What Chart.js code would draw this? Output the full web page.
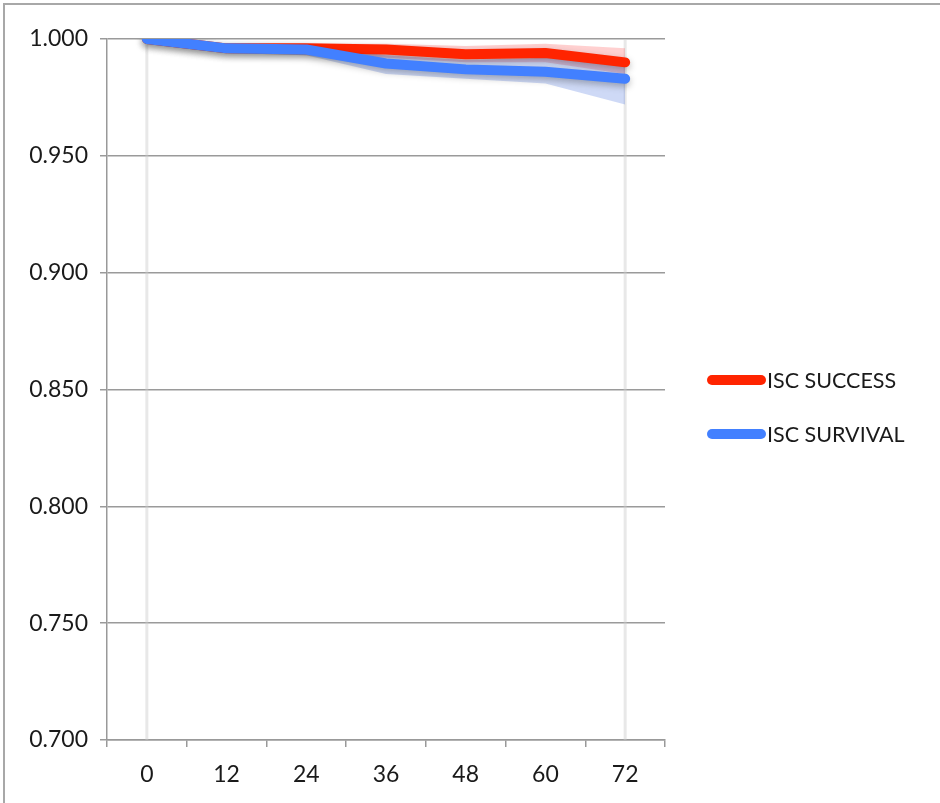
<!DOCTYPE html>
<html>
<head>
<meta charset="utf-8">
<script src="https://cdn.jsdelivr.net/npm/chart.js@4/dist/chart.umd.min.js"></script>
<style>
  html, body { margin: 0; padding: 0; background: #fff; }
  #wrap { width: 940px; height: 803px; position: relative; }
</style>
</head>
<body>
<div id="wrap"><canvas id="c" width="940" height="803"></canvas></div>
<script>
// Months since procedure
const months = ['0', '12', '24', '36', '48', '60', '72'];

// ISC success estimate with its confidence band
const successValues = [1.000, 0.996, 0.996, 0.9955, 0.9935, 0.994, 0.990];
const successUpper  = [1.000, 0.998, 0.998, 0.998, 0.997, 0.998, 0.996];
const successLower  = [1.000, 0.994, 0.993, 0.992, 0.990, 0.990, 0.985];

// ISC survival estimate with its confidence band
const survivalValues = [1.000, 0.996, 0.9955, 0.9895, 0.987, 0.986, 0.983];
const survivalUpper  = [1.000, 0.998, 0.997, 0.993, 0.991, 0.992, 0.990];
const survivalLower  = [1.000, 0.994, 0.993, 0.985, 0.983, 0.981, 0.972];

const yTicks = [0.700, 0.750, 0.800, 0.850, 0.900, 0.950, 1.000];

const RED = '#ff2400';
const BLUE = '#4280ff';
const FONT = 'Lato, "Open Sans", sans-serif';

const bandStyle = (color) => ({
  borderWidth: 0, pointRadius: 0, pointHoverRadius: 0,
  backgroundColor: color, tension: 0
});

// Soft drop shadow beneath the main curves
const shadowPlugin = {
  id: 'shadow',
  beforeDatasetDraw(chart, args) {
    const ds = chart.data.datasets[args.index];
    if (ds.isMain) {
      const ctx = chart.ctx;
      ctx.save();
      ctx.shadowColor = 'rgba(0,0,0,0.28)';
      ctx.shadowBlur = 7;
      ctx.shadowOffsetY = 3;
    }
  },
  afterDatasetDraw(chart, args) {
    const ds = chart.data.datasets[args.index];
    if (ds.isMain) chart.ctx.restore();
  }
};

// Faint vertical drop lines at the first and last time points, plus frame and legend
const decorPlugin = {
  id: 'decor',
  beforeDatasetsDraw(chart) {
    const { ctx, chartArea, scales } = chart;
    ctx.save();
    ctx.strokeStyle = 'rgba(205,205,205,0.45)';
    ctx.lineWidth = 3;
    [months[0], months[months.length - 1]].forEach(m => {
      const x = scales.x.getPixelForValue(months.indexOf(m));
      ctx.beginPath();
      ctx.moveTo(x, chartArea.top);
      ctx.lineTo(x, chartArea.bottom);
      ctx.stroke();
    });
    ctx.restore();
  },
  afterDraw(chart) {
    const ctx = chart.ctx;
    ctx.save();
    // outer frame (top and left edges)
    ctx.strokeStyle = '#a8a8a8';
    ctx.lineWidth = 2;
    ctx.beginPath();
    ctx.moveTo(4, 803);
    ctx.lineTo(4, 4);
    ctx.lineTo(940, 4);
    ctx.stroke();

    // legend
    const items = [
      { label: 'ISC SUCCESS', color: RED, y: 380 },
      { label: 'ISC SURVIVAL', color: BLUE, y: 434 }
    ];
    ctx.font = '21.5px ' + FONT;
    ctx.textBaseline = 'middle';
    ctx.textAlign = 'left';
    items.forEach(it => {
      ctx.strokeStyle = it.color;
      ctx.lineWidth = 10;
      ctx.lineCap = 'round';
      ctx.beginPath();
      ctx.moveTo(712, it.y);
      ctx.lineTo(761, it.y);
      ctx.stroke();
      ctx.fillStyle = '#1a1a1a';
      ctx.fillText(it.label, 767, it.y + 1);
    });
    ctx.restore();
  }
};

new Chart(document.getElementById('c'), {
  type: 'line',
  data: {
    labels: months,
    datasets: [
      { label: 'ISC SURVIVAL', data: survivalValues, isMain: true,
        borderColor: BLUE, borderWidth: 10, pointRadius: 0, tension: 0,
        borderCapStyle: 'round', borderJoinStyle: 'round', fill: false, order: 1 },
      { label: 'ISC SUCCESS', data: successValues, isMain: true,
        borderColor: RED, borderWidth: 10, pointRadius: 0, tension: 0,
        borderCapStyle: 'round', borderJoinStyle: 'round', fill: false, order: 2 },
      { label: 'survival upper', data: survivalUpper, ...bandStyle('rgba(66,110,220,0.26)'), fill: false, order: 3 },
      { label: 'survival lower', data: survivalLower, ...bandStyle('rgba(66,110,220,0.26)'), fill: '-1', order: 3 },
      { label: 'success upper', data: successUpper, ...bandStyle('rgba(255,60,60,0.24)'), fill: false, order: 4 },
      { label: 'success lower', data: successLower, ...bandStyle('rgba(255,60,60,0.24)'), fill: '-1', order: 4 }
    ]
  },
  plugins: [shadowPlugin, decorPlugin],
  options: {
    responsive: false,
    animation: false,
    events: [],
    layout: { padding: { top: 39, right: 275, bottom: 0, left: 0 } },
    plugins: { legend: { display: false }, tooltip: { enabled: false } },
    scales: {
      x: {
        type: 'category',
        offset: true,
        grid: { offset: true, drawOnChartArea: false, drawTicks: true, tickLength: 7, color: '#999', lineWidth: 1.5 },
        border: { color: '#999', width: 1.5 },
        ticks: { color: '#1a1a1a', font: { family: FONT, size: 23 }, padding: 14, maxRotation: 0 },
        afterFit(scale) { scale.height = 63; }
      },
      y: {
        min: 0.7, max: 1.0,
        afterBuildTicks(scale) { scale.ticks = yTicks.map(v => ({ value: v })); },
        grid: { color: '#9a9a9a', lineWidth: 1.5, tickLength: 7 },
        border: { color: '#999', width: 1.5 },
        ticks: { color: '#1a1a1a', font: { family: FONT, size: 23 }, padding: 12,
                 callback: v => Number(v).toFixed(3) },
        afterFit(scale) { scale.width = 107; }
      }
    }
  }
});
</script>
</body>
</html>
